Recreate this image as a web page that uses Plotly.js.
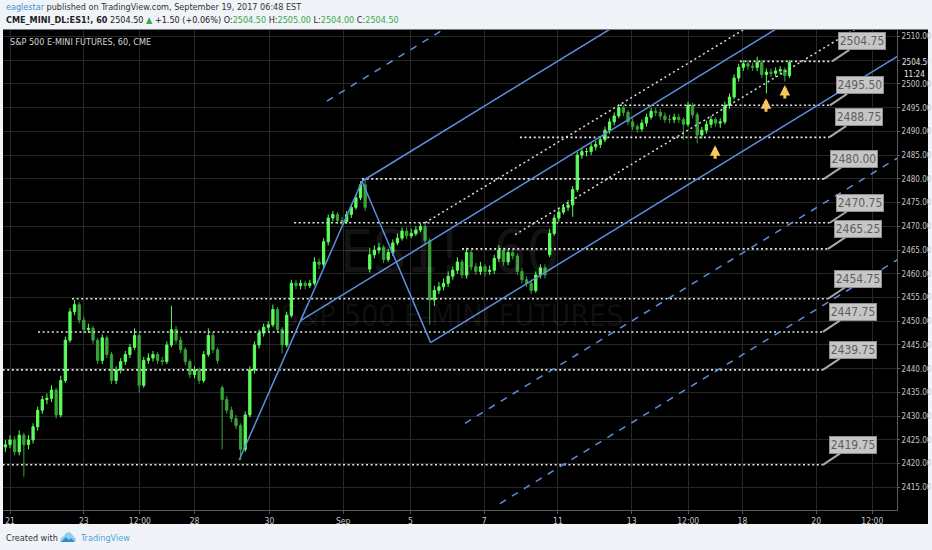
<!DOCTYPE html>
<html><head><meta charset="utf-8">
<script src="https://cdn.plot.ly/plotly-3.0.1.min.js"></script>
<style>html,body{margin:0;padding:0;background:#f0f3f7;}#chart{width:932px;height:550px;}</style>
</head><body><div id="chart"></div>
<script>
// ---- time sampling of bars (trading-day units, 0 = Aug 21) ----
const barStartDay = -0.125;
const barStepDay = 0.125;

const openPrices = [
2423.5,2424.0,2425.0,2422.5,2426.0,2424.0,2425.0,2427.75,2431.25,2433.5,
2433.75,2435.5,2430.25,2437.5,2446.0,2452.0,2453.5,2450.25,2448.25,2448.5,
2446.0,2441.75,2446.5,2443.0,2437.5,2439.75,2441.5,2443.0,2444.5,2447.0,
2436.5,2441.75,2442.25,2443.0,2441.75,2441.5,2445.0,2448.25,2446.0,2444.0,
2441.5,2438.75,2439.75,2437.5,2443.0,2447.0,2444.0,2436.0,2433.5,2431.25,
2429.5,2428.0,2423.0,2430.25,2439.75,2445.0,2447.5,2448.75,2449.25,2452.5,
2448.25,2445.0,2451.25,2458.0,2457.5,2458.0,2457.5,2458.0,2462.5,2462.0,
2466.75,2471.75,2472.5,2471.25,2471.0,2472.5,2474.0,2476.0,2478.75,2461.0,
2464.0,2465.0,2465.5,2463.0,2464.5,2466.5,2467.5,2469.0,2468.0,2468.5,
2469.25,2470.0,2467.0,2454.5,2456.5,2457.25,2458.0,2459.5,2460.75,2462.5,
2459.75,2464.5,2461.5,2460.5,2461.5,2460.5,2460.75,2463.25,2465.0,2462.5,
2464.5,2463.75,2460.5,2458.75,2458.0,2456.5,2459.75,2461.25,2464.0,2468.5,
2471.75,2473.0,2474.0,2474.5,2477.75,2485.0,2485.75,2485.75,2486.75,2487.25,
2488.25,2490.25,2492.0,2493.25,2495.0,2494.0,2492.0,2491.0,2490.5,2491.75,
2493.0,2494.25,2494.0,2493.25,2492.5,2492.5,2493.0,2492.5,2491.5,2495.5,
2493.5,2489.25,2490.25,2491.5,2492.5,2491.75,2492.0,2495.5,2497.25,2501.25,
2503.5,2504.25,2503.75,2503.5,2504.5,2502.0,2502.5,2502.25,2502.75,2503.0,
2501.75];

const highPrices = [
2425.0,2426.0,2425.75,2427.0,2426.5,2426.0,2428.5,2432.0,2434.25,2434.75,
2436.5,2436.0,2438.5,2446.75,2452.75,2454.5,2454.0,2451.0,2449.5,2449.0,
2446.5,2447.25,2447.0,2443.5,2440.5,2442.25,2443.75,2445.25,2448.5,2447.5,
2442.5,2443.25,2443.75,2443.5,2442.5,2445.75,2453.25,2449.0,2446.75,2444.5,
2442.0,2440.5,2440.25,2443.75,2448.5,2447.75,2444.5,2436.5,2434.25,2432.0,
2430.25,2428.5,2431.0,2440.5,2445.75,2448.25,2449.5,2450.0,2453.5,2453.0,
2448.75,2452.0,2458.75,2458.75,2458.75,2458.5,2458.75,2463.5,2463.25,2467.5,
2472.5,2473.25,2473.0,2472.0,2473.25,2474.75,2476.75,2479.5,2479.75,2465.5,
2466.0,2466.5,2466.0,2465.25,2467.25,2468.5,2469.75,2469.75,2469.5,2470.0,
2470.75,2470.75,2467.5,2457.5,2458.25,2459.0,2460.5,2461.5,2463.5,2463.0,
2465.5,2465.0,2462.25,2462.5,2462.0,2461.75,2464.0,2466.0,2465.5,2465.25,
2465.25,2464.25,2461.25,2459.5,2458.75,2460.5,2462.0,2462.0,2469.5,2472.5,
2473.75,2474.75,2475.5,2478.5,2485.75,2486.5,2486.5,2487.5,2488.0,2489.0,
2491.0,2492.75,2494.0,2495.75,2495.5,2494.5,2492.75,2491.5,2492.5,2493.75,
2495.0,2495.0,2494.75,2494.0,2493.5,2493.75,2493.75,2493.0,2496.25,2496.0,
2494.0,2491.0,2492.25,2493.25,2493.0,2492.75,2496.25,2498.0,2502.0,2504.25,
2505.0,2505.0,2504.5,2505.75,2505.0,2503.25,2503.25,2503.5,2503.75,2503.5,
2505.0];

const lowPrices = [
2422.5,2423.25,2421.75,2421.75,2417.25,2423.0,2424.25,2427.0,2430.5,2432.5,
2433.0,2429.5,2429.75,2437.0,2445.5,2451.25,2449.5,2447.5,2447.5,2445.25,
2441.0,2441.0,2442.25,2436.75,2436.75,2439.0,2440.75,2442.25,2444.0,2435.0,
2436.0,2441.0,2441.5,2441.0,2440.75,2441.0,2444.5,2445.25,2443.25,2440.75,
2438.0,2438.0,2436.75,2437.0,2442.5,2443.25,2441.0,2423.0,2430.5,2428.75,
2427.25,2420.75,2422.5,2429.75,2439.0,2444.25,2446.75,2448.0,2448.75,2447.5,
2443.25,2444.5,2450.75,2456.75,2456.75,2456.75,2457.0,2457.5,2461.0,2461.25,
2466.0,2471.0,2470.5,2470.25,2470.5,2471.75,2473.5,2475.5,2473.25,2460.25,
2463.25,2464.25,2462.25,2462.5,2463.75,2466.0,2467.0,2467.25,2467.5,2468.0,
2468.75,2466.25,2449.25,2453.25,2455.75,2456.5,2457.25,2458.75,2460.0,2459.0,
2459.0,2460.75,2459.75,2459.75,2459.5,2459.75,2460.0,2462.5,2461.75,2461.75,
2463.0,2459.75,2458.0,2457.25,2455.75,2456.0,2459.0,2459.0,2463.5,2468.0,
2471.0,2472.5,2473.25,2472.0,2477.25,2484.25,2484.75,2485.0,2486.0,2486.5,
2487.75,2489.5,2491.25,2492.75,2493.25,2491.25,2490.25,2489.75,2490.0,2491.0,
2492.5,2493.25,2492.5,2491.75,2491.75,2491.75,2491.75,2488.25,2491.0,2492.75,
2487.5,2488.5,2489.5,2490.75,2491.0,2490.75,2491.5,2494.75,2496.75,2500.5,
2502.75,2503.0,2502.75,2502.75,2501.25,2498.0,2501.5,2501.5,2502.0,2500.5,
2501.25];

const closePrices = [
2424.0,2425.0,2422.5,2426.0,2424.0,2425.0,2427.75,2431.25,2433.5,2433.75,
2435.5,2430.25,2437.5,2446.0,2452.0,2453.5,2450.25,2448.25,2448.5,2446.0,
2441.75,2446.5,2443.0,2437.5,2439.75,2441.5,2443.0,2444.5,2447.0,2436.5,
2441.75,2442.25,2443.0,2441.75,2441.5,2445.0,2448.25,2446.0,2444.0,2441.5,
2438.75,2439.75,2437.5,2443.0,2447.0,2444.0,2441.75,2433.5,2431.25,2429.5,
2428.0,2423.0,2430.25,2439.75,2445.0,2447.5,2448.75,2449.25,2452.5,2448.25,
2445.0,2451.25,2458.0,2457.5,2458.0,2457.5,2458.0,2462.5,2462.0,2466.75,
2471.75,2472.5,2471.25,2471.0,2472.5,2474.0,2476.0,2478.75,2474.0,2464.0,
2465.0,2465.5,2463.0,2464.5,2466.5,2467.5,2469.0,2468.0,2468.5,2469.25,
2470.0,2467.0,2454.5,2456.5,2457.25,2458.0,2459.5,2460.75,2462.5,2459.75,
2464.5,2461.5,2460.5,2461.5,2460.5,2460.75,2463.25,2465.0,2462.5,2464.5,
2463.75,2460.5,2458.75,2458.0,2456.5,2459.75,2461.25,2459.75,2468.5,2471.75,
2473.0,2474.0,2474.5,2477.75,2485.0,2485.75,2485.75,2486.75,2487.25,2488.25,
2490.25,2492.0,2493.25,2495.0,2494.0,2492.0,2491.0,2490.5,2491.75,2493.0,
2494.25,2494.0,2493.25,2492.5,2492.5,2493.0,2492.5,2491.5,2495.5,2493.5,
2489.25,2490.25,2491.5,2492.5,2491.75,2492.0,2495.5,2497.25,2501.25,2503.5,
2504.25,2503.75,2503.5,2504.5,2502.0,2502.5,2502.25,2502.75,2503.0,2501.75,
2504.5];

// ---- axis ticks ----
const xTickVals = [0, 2, 3.52, 5, 7.03, 9.03, 10.85, 12.85, 14.85, 16.85, 18.38, 19.85, 21.85, 23.37];
const xTickText = ['21','23','12:00','28','30','Sep','5','7','11','13','12:00','18','20','12:00'];
const yTickVals = [2415,2420,2425,2430,2435,2440,2445,2450,2455,2460,2465,2470,2475,2480,2485,2490,2495,2500,2505,2510];
const yTickText = ['2415.00','2420.00','2425.00','2430.00','2435.00','2440.00','2445.00','2450.00','2455.00','2460.00','2465.00','2470.00','2475.00','2480.00','2485.00','2490.00','2495.00','2500.00','','2510.00'];

// ---- horizontal levels (drawing) ----
const levelPrice    = [2504.75, 2495.50, 2488.75, 2480.00, 2470.75, 2465.25, 2454.75, 2447.75, 2439.75, 2419.75];
const levelStartDay = [19.78, 16.53, 13.82, 9.54, 7.70, 12.25, 1.68, 0.76, -0.2, -0.2];
const levelEndDay   = [22.28, 22.22, 22.20, 22.06, 22.22, 22.17, 22.17, 22.03, 22.03, 22.03];

// ---- pitchfork anchors (day, price) ----
const forkA = [6.21, 2420.75];
const forkB = [9.54, 2479.5];
const forkC = [11.40, 2445.5];
const forkDashMult = [2, -2, -3];
const forkDashStartDay = [8.59, 12.33, 13.28];

// ---- dotted trend lines (day, price) ----
const trendStart = [[11.25, 2470.75], [13.69, 2468.25]];
const trendEnd   = [[20.0, 2512.0], [23.0, 2512.0]];

// ---- up arrows ----
const arrowDay   = [19.11, 20.49, 21.0];
const arrowPrice = [2487.1, 2497.0, 2499.8];

const lastPrice = '2504.50';
const countdown = '11:24';

// ================= build =================
const narrow = "'Liberation Sans Narrow','Arial Narrow','DejaVu Sans Condensed',sans-serif";
const BLUE = 'rgb(92,142,222)';
const barX = openPrices.map((_, i) => barStartDay + i * barStepDay);

const traces = [];
traces.push({
  type: 'candlestick', x: barX, open: openPrices, high: highPrices, low: lowPrices, close: closePrices,
  increasing: {line: {color: '#5cff5c', width: 1}, fillcolor: '#5cff5c'},
  decreasing: {line: {color: '#39a339', width: 1}, fillcolor: '#39a339'},
  whiskerwidth: 0, hoverinfo: 'skip', showlegend: false
});

// levels
const lx = [], ly = [];
levelPrice.forEach((p, i) => { lx.push(levelStartDay[i], levelEndDay[i], null); ly.push(p, p, null); });
traces.push({type: 'scatter', mode: 'lines', x: lx, y: ly, line: {color: '#e6e6e6', width: 1.6, dash: '2px,2.6px'}, hoverinfo: 'skip', showlegend: false});

// trend dotted
const tx = [], ty = [];
trendStart.forEach((s, i) => { tx.push(s[0], trendEnd[i][0], null); ty.push(s[1], trendEnd[i][1], null); });
traces.push({type: 'scatter', mode: 'lines', x: tx, y: ty, line: {color: '#dcdcdc', width: 1.5, dash: '2px,3px'}, hoverinfo: 'skip', showlegend: false});

// pitchfork (modified Schiff)
const mAB = [(forkA[0] + forkB[0]) / 2, (forkA[1] + forkB[1]) / 2];
const mBC = [(forkB[0] + forkC[0]) / 2, (forkB[1] + forkC[1]) / 2];
const slope = (mBC[1] - mAB[1]) / (mBC[0] - mAB[0]);
const median = d => mAB[1] + slope * (d - mAB[0]);
const half = forkB[1] - median(forkB[0]);
const offC = forkC[1] - median(forkC[0]);
const farDay = 30;
const sx = [forkA[0], forkB[0], forkC[0], null,
            mAB[0], farDay, null,
            forkB[0], farDay, null,
            forkC[0], farDay];
const sy = [forkA[1], forkB[1], forkC[1], null,
            mAB[1], median(farDay), null,
            forkB[1], median(farDay) + half, null,
            forkC[1], median(farDay) + offC];
traces.push({type: 'scatter', mode: 'lines', x: sx, y: sy, line: {color: BLUE, width: 1.5}, hoverinfo: 'skip', showlegend: false});
const dx = [], dy = [];
forkDashMult.forEach((m, i) => { const s = forkDashStartDay[i]; dx.push(s, farDay, null); dy.push(median(s) + m * half, median(farDay) + m * half, null); });
traces.push({type: 'scatter', mode: 'lines', x: dx, y: dy, line: {color: BLUE, width: 1.5, dash: '7px,7px'}, hoverinfo: 'skip', showlegend: false});

// ---- pixel helpers for page furniture ----
const L = 3, R = 897, T = 30, B = 510;
const px = v => (v - L) / (R - L);
const py = v => (B - v) / (B - T);

const annotations = [];
// level label boxes
levelPrice.forEach((p, i) => annotations.push({
  x: levelEndDay[i], y: p, xref: 'x', yref: 'y', text: p.toFixed(2),
  showarrow: true, arrowhead: 0, arrowwidth: 2, arrowcolor: '#a9a9a9', ax: 30, ay: -20, standoff: 0,
  bgcolor: '#c6c6c6', bordercolor: '#8e8e8e', borderwidth: 1, borderpad: 1, width: 44, height: 14,
  font: {family: narrow, size: 12, color: '#5e5e5e'}
}));
// yellow arrows (shaft + head)
arrowDay.forEach((d, i) => {
  annotations.push({
    x: d, y: arrowPrice[i], xref: 'x', yref: 'y', text: '', showarrow: true, font: {size: 1},
    borderpad: 0, borderwidth: 0, width: 1, height: 1,
    arrowhead: 0, arrowwidth: 3, arrowcolor: '#f7c65c', ax: 0, ay: 14, standoff: 3, startstandoff: 0
  });
  annotations.push({
    x: d, y: arrowPrice[i], xref: 'x', yref: 'y', text: '', showarrow: true, font: {size: 1},
    borderpad: 0, borderwidth: 0, width: 1, height: 1,
    arrowhead: 2, arrowsize: 0.7, arrowwidth: 3, arrowcolor: '#f7c65c', ax: 0, ay: 8, standoff: 0, startstandoff: 0
  });
});
// watermark
annotations.push({xref: 'paper', yref: 'paper', x: px(450), y: py(252), text: 'ES1!, 60', showarrow: false,
  font: {family: narrow, size: 58, color: 'rgba(255,255,255,0.075)'}});
annotations.push({xref: 'paper', yref: 'paper', x: px(452), y: py(315), text: 'S&P 500 E-MINI FUTURES', showarrow: false,
  font: {family: narrow, size: 30, color: 'rgba(255,255,255,0.075)'}});
// chart inner title
annotations.push({xref: 'paper', yref: 'paper', x: px(8), y: py(42), xanchor: 'left', yanchor: 'middle', showarrow: false,
  text: 'S&P 500 E-MINI FUTURES, 60, CME', font: {family: narrow, size: 9, color: '#d8d8d8'}});
// header
annotations.push({xref: 'paper', yref: 'paper', x: px(4), y: py(7), xanchor: 'left', yanchor: 'middle', showarrow: false,
  text: '<span style="color:#3b93d8">eaglestar</span> published on TradingView.com, September 19, 2017 06:48 EST',
  font: {family: narrow, size: 9, color: '#333'}});
annotations.push({xref: 'paper', yref: 'paper', x: px(4), y: py(20), xanchor: 'left', yanchor: 'middle', showarrow: false,
  text: '<b>CME_MINI_DL:ES1!, 60</b> 2504.50 <span style="color:#3aa84a">▲</span> +1.50 (+0.06%) O:<span style="color:#3aa84a">2504.50</span> H:<span style="color:#3aa84a">2505.00</span> L:<span style="color:#3aa84a">2504.00</span> C:<span style="color:#3aa84a">2504.50</span>',
  font: {family: narrow, size: 9, color: '#222'}});
// footer
annotations.push({xref: 'paper', yref: 'paper', x: px(4), y: py(538), xanchor: 'left', yanchor: 'middle', showarrow: false,
  text: 'Created with', font: {family: narrow, size: 9, color: '#333'}});
annotations.push({xref: 'paper', yref: 'paper', x: px(78), y: py(538), xanchor: 'left', yanchor: 'middle', showarrow: false,
  text: 'TradingView', font: {family: narrow, size: 9, color: '#4da3e0'}});
// last price + countdown on axis
annotations.push({xref: 'paper', yref: 'paper', x: px(900), y: py(62.7), xanchor: 'left', yanchor: 'middle', showarrow: false,
  text: lastPrice, font: {family: narrow, size: 8, color: '#e8e8e8'}});
annotations.push({xref: 'paper', yref: 'paper', x: px(927), y: py(74), xanchor: 'right', yanchor: 'middle', showarrow: false,
  text: countdown, font: {family: narrow, size: 8, color: '#e8e8e8'}});

const pathOf = pts => pts.map((p, i) => (i ? 'L' : 'M') + px(p[0]) + ',' + py(p[1])).join(' ') + ' Z';
const shapes = [
  {type: 'rect', xref: 'paper', yref: 'paper', x0: px(3), x1: px(928), y0: py(524), y1: py(29.5), fillcolor: '#000', line: {width: 0}, layer: 'below'},
  {type: 'path', xref: 'paper', yref: 'paper', layer: 'above', line: {width: 0}, fillcolor: '#8fcdf0',
   path: pathOf([[60,542],[61,538],[64,536],[66,533],[69,532],[72,534],[74,537],[76,539],[75,542]])},
  {type: 'path', xref: 'paper', yref: 'paper', layer: 'above', line: {width: 0}, fillcolor: '#2f8ad0',
   path: pathOf([[61,542],[66,537],[69,540],[71,538],[75,542]])}
];

const layout = {
  width: 932, height: 550,
  margin: {l: L, r: 932 - R, t: T, b: 550 - B, pad: 0},
  paper_bgcolor: '#f0f3f7', plot_bgcolor: '#000',
  showlegend: false,
  xaxis: {range: [-0.19, 24.04], tickvals: xTickVals, ticktext: xTickText, showgrid: true, gridcolor: '#272727',
    zeroline: false, showline: true, linecolor: '#5a5a5a', linewidth: 1, ticks: 'outside', ticklen: 3, tickcolor: '#555',
    tickfont: {family: narrow, size: 8.5, color: '#c8c8c8'}, rangeslider: {visible: false}, fixedrange: true},
  yaxis: {range: [2410.23, 2511.37], side: 'right', tickvals: yTickVals, ticktext: yTickText, showgrid: true, gridcolor: '#272727',
    zeroline: false, showline: true, linecolor: '#5a5a5a', linewidth: 1, ticks: 'outside', ticklen: 2, tickcolor: '#666',
    tickfont: {family: narrow, size: 8, color: '#c8c8c8'}, fixedrange: true},
  annotations: annotations,
  shapes: shapes
};

Plotly.newPlot('chart', traces, layout, {staticPlot: true, displayModeBar: false});
</script></body></html>
